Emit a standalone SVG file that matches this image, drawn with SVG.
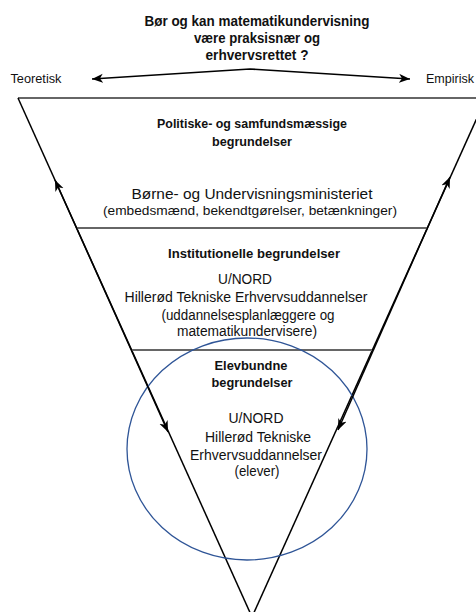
<svg xmlns="http://www.w3.org/2000/svg" width="476" height="612" viewBox="0 0 476 612">
  <style>
    .t { font-family: "Liberation Sans", Arial, sans-serif; fill: #111; text-anchor: middle; }
    .b { font-weight: bold; }
    .edge { stroke: #000; stroke-width: 1.5; fill: none; }
    .div { stroke: #666; stroke-width: 2; fill: none; }
    .arr { stroke: #000; stroke-width: 1.5; fill: none; marker-start: url(#ah); marker-end: url(#ah); }
  </style>
  <defs>
    <marker id="ah" markerUnits="userSpaceOnUse" markerWidth="12" markerHeight="10" refX="11" refY="4.5" orient="auto-start-reverse">
      <path d="M0,0 L11,4.5 L0,9 L3,4.5 z" fill="#000"/>
    </marker>
  </defs>
  <rect width="476" height="612" fill="#fff"/>

  <g id="title">
    <text class="t b" x="257" y="26" font-size="14.5" textLength="225" lengthAdjust="spacingAndGlyphs">Bør og kan matematikundervisning</text>
    <text class="t b" x="257" y="43" font-size="14.5" textLength="126" lengthAdjust="spacingAndGlyphs">være praksisnær og</text>
    <text class="t b" x="257" y="60" font-size="14.5" textLength="103" lengthAdjust="spacingAndGlyphs">erhvervsrettet ?</text>
  </g>
  <g id="label-teoretisk">
    <text class="t" x="36" y="83" font-size="13" textLength="51" lengthAdjust="spacingAndGlyphs">Teoretisk</text>
  </g>
  <g id="label-empirisk">
    <text class="t" x="450" y="83" font-size="13" textLength="48" lengthAdjust="spacingAndGlyphs">Empirisk</text>
  </g>

  <g id="triangle">
    <line class="div" x1="18" y1="98" x2="476" y2="98"/>
    <line class="edge" x1="18" y1="98" x2="252" y2="617"/>
    <line class="edge" x1="486" y1="98" x2="252" y2="617"/>
  </g>

  <g id="level-political">
    <text class="t b" x="252" y="128" font-size="13" textLength="190" lengthAdjust="spacingAndGlyphs">Politiske- og samfundsmæssige</text>
    <text class="t b" x="252" y="146" font-size="13" textLength="80" lengthAdjust="spacingAndGlyphs">begrundelser</text>
    <text class="t" x="252" y="199" font-size="15.5" textLength="241" lengthAdjust="spacingAndGlyphs">Børne- og Undervisningsministeriet</text>
    <text class="t" x="250" y="215" font-size="13" textLength="294" lengthAdjust="spacingAndGlyphs">(embedsmænd, bekendtgørelser, betænkninger)</text>
    <line class="div" x1="77" y1="228" x2="427" y2="228"/>
  </g>

  <g id="level-institutional">
    <text class="t b" x="254" y="258" font-size="13" textLength="172" lengthAdjust="spacingAndGlyphs">Institutionelle begrundelser</text>
    <text class="t" x="245" y="284" font-size="14" textLength="54" lengthAdjust="spacingAndGlyphs">U/NORD</text>
    <text class="t" x="246" y="302" font-size="14" textLength="243" lengthAdjust="spacingAndGlyphs">Hillerød Tekniske Erhvervsuddannelser</text>
    <text class="t" x="248" y="320" font-size="14" textLength="173" lengthAdjust="spacingAndGlyphs">(uddannelsesplanlæggere og</text>
    <text class="t" x="247" y="336" font-size="14" textLength="140" lengthAdjust="spacingAndGlyphs">matematikundervisere)</text>
    <line class="div" x1="132" y1="350" x2="372" y2="350"/>
  </g>

  <g id="level-student">
    <ellipse cx="247" cy="449" rx="120" ry="111" fill="none" stroke="#2f5597" stroke-width="1.3"/>
    <text class="t b" x="251" y="370" font-size="13" textLength="73" lengthAdjust="spacingAndGlyphs">Elevbundne</text>
    <text class="t b" x="252" y="387" font-size="13" textLength="81" lengthAdjust="spacingAndGlyphs">begrundelser</text>
    <text class="t" x="256" y="423" font-size="14" textLength="55" lengthAdjust="spacingAndGlyphs">U/NORD</text>
    <text class="t" x="258" y="442" font-size="14" textLength="106" lengthAdjust="spacingAndGlyphs">Hillerød Tekniske</text>
    <text class="t" x="256" y="460" font-size="14" textLength="132" lengthAdjust="spacingAndGlyphs">Erhvervsuddannelser</text>
    <text class="t" x="257" y="476" font-size="14" textLength="45" lengthAdjust="spacingAndGlyphs">(elever)</text>
  </g>

  <g id="connectors">
    <polyline class="arr" points="92,79 250,69 410,79"/>
    <line class="arr" x1="55" y1="180" x2="168" y2="432"/>
    <line class="arr" x1="450" y1="177" x2="338" y2="430"/>
  </g>
</svg>
